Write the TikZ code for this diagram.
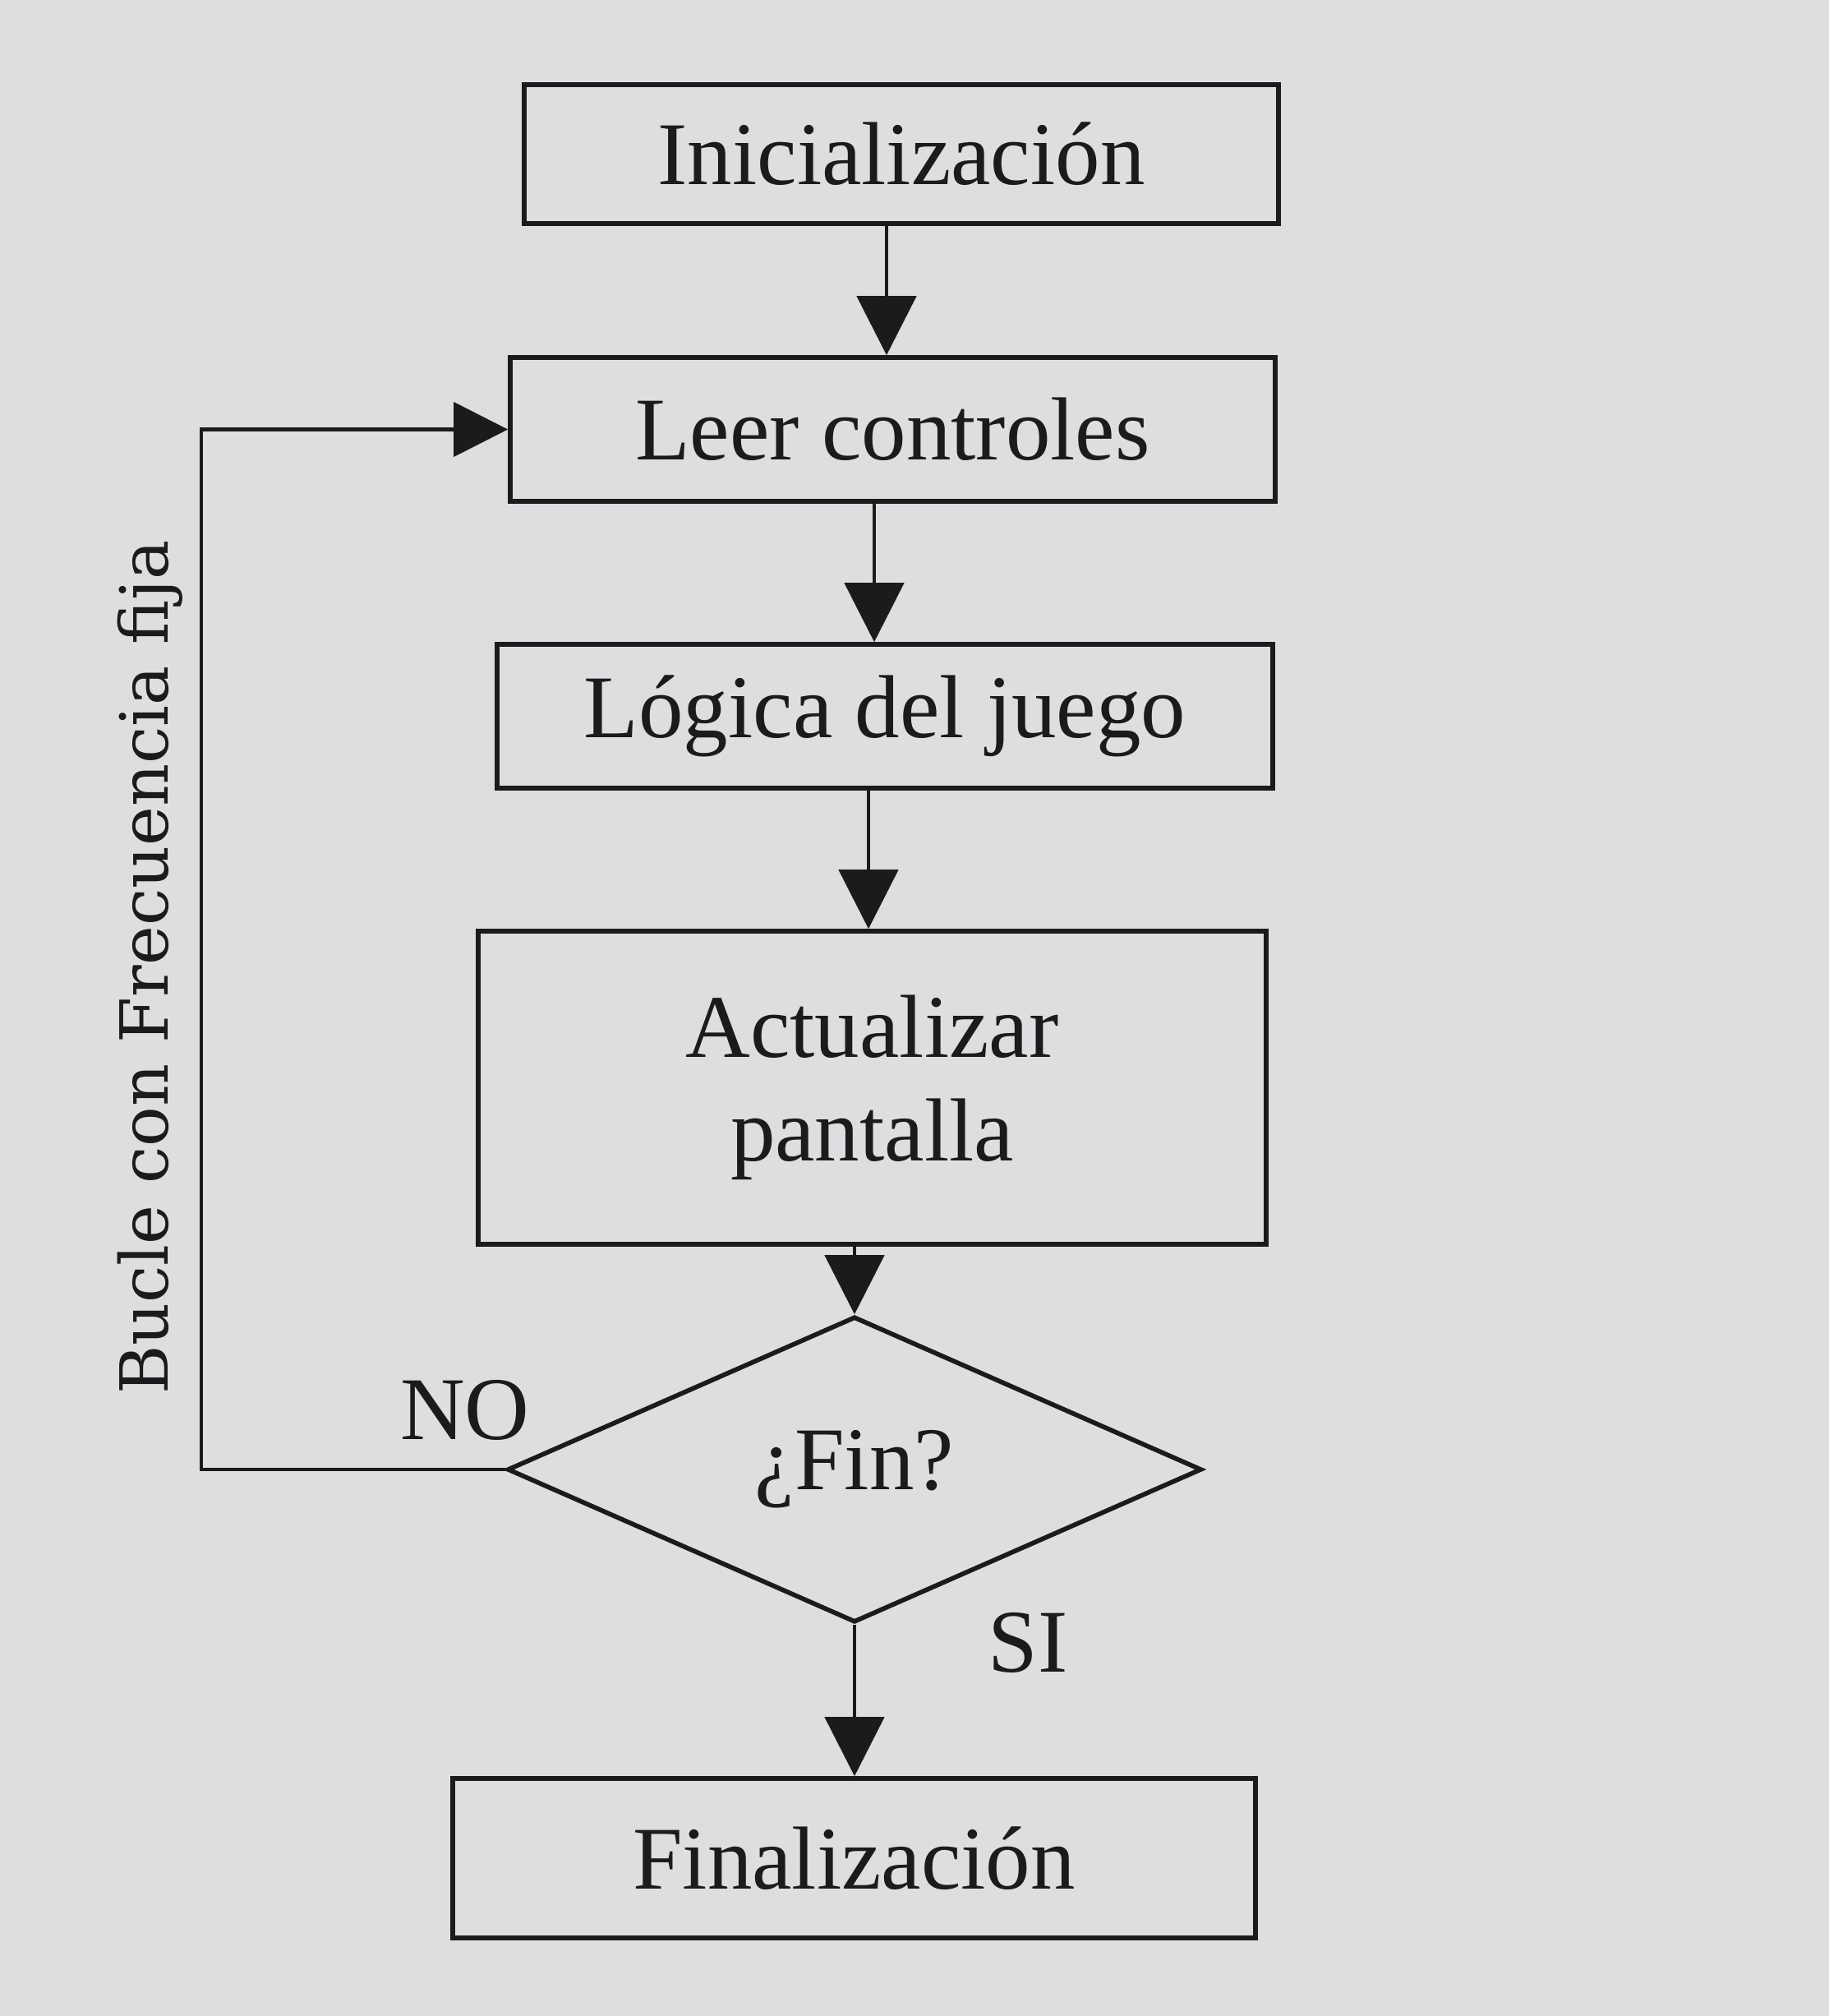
\documentclass[tikz,border=0pt]{standalone}
\usepackage{fontspec}
\setmainfont{Liberation Serif}
\newfontfamily\labelfont{DejaVu Serif}
\usetikzlibrary{arrows.meta,shapes.geometric}
\definecolor{paper}{RGB}{222,222,225}
\definecolor{ink}{RGB}{28,26,28}
\tikzset{
  stepbox/.style={draw=ink, line width=1.6pt, rectangle, inner sep=0pt,
    font=\fontsize{31}{36}\selectfont, text=ink, align=center},
  decision/.style={draw=ink, line width=1.6pt, diamond, inner sep=0pt,
    font=\fontsize{31}{36}\selectfont, text=ink},
  conn/.style={draw=ink, line width=1.35pt, -{Triangle[length=0.72cm,width=0.72cm]}},
  loopconn/.style={draw=ink, line width=1.15pt, -{Triangle[length=0.66cm,width=0.66cm]}},
  lbl/.style={font=\fontsize{31}{36}\selectfont, text=ink, inner sep=0pt}
}
\begin{document}
\begin{tikzpicture}
\fill[paper] (0,0) rectangle (22.26,-24.53);
\useasboundingbox (0,0) rectangle (22.26,-24.53);

\node[stepbox, minimum width=9.18cm, minimum height=1.69cm] (init) at (10.97,-1.875) {Inicialización};
\node[stepbox, minimum width=9.31cm, minimum height=1.75cm] (leer) at (10.865,-5.225) {Leer controles};
\node[stepbox, minimum width=9.44cm, minimum height=1.75cm] (logica) at (10.77,-8.715) {Lógica del juego};
\node[stepbox, minimum width=9.59cm, minimum height=3.81cm] (act) at (10.615,-13.235) {Actualizar\\pantalla};
\node[decision, minimum width=8.45cm, minimum height=3.72cm, shape aspect=2.27] (dia) at (10.40,-17.88) {¿Fin?};
\node[stepbox, minimum width=9.77cm, minimum height=1.94cm] (fin) at (10.395,-22.61) {Finalización};

\coordinate (x1) at (10.79,0);
\coordinate (x2) at (10.64,0);
\coordinate (x3) at (10.57,0);
\coordinate (lb) at (2.45,0);

\draw[conn] (init.south -| x1) -- (leer.north -| x1);
\draw[conn] (leer.south -| x2) -- (logica.north -| x2);
\draw[conn] (logica.south -| x3) -- (act.north -| x3);
\draw[conn] (act.south -| dia.north) -- (dia.north);
\draw[conn] (dia.south) -- (fin.north -| dia.south);

\draw[loopconn] (dia.west) -- (dia.west -| lb) -- (leer.west -| lb) -- (leer.west);

\node[rotate=90, font=\labelfont\fontsize{23}{27}\selectfont, text=ink] (bucle) at (1.83,-11.77) {Bucle con Frecuencia fija};
\node[lbl] (no) at (5.66,-17.16) {NO};
\node[lbl] (si) at (12.51,-19.99) {SI};
\end{tikzpicture}
\end{document}
